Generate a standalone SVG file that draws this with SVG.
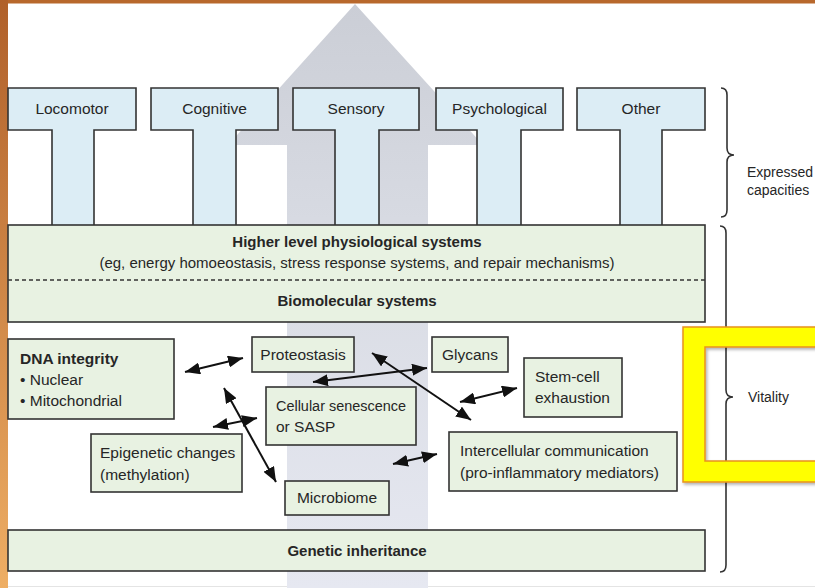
<svg xmlns="http://www.w3.org/2000/svg" width="815" height="588" viewBox="0 0 815 588">
<style>
text{font-family:"Liberation Sans","Noto Sans",Arial,sans-serif;fill:#262626;font-size:15.5px}
.b{font-weight:bold}
.c{text-anchor:middle}
.t{fill:#dcedf5;stroke:#333;stroke-width:1.6}
.g{fill:#e8f2e2;stroke:#333;stroke-width:1.6}
.br{fill:none;stroke:#333;stroke-width:1.6}
.ar{stroke:#111;stroke-width:2;marker-start:url(#ah);marker-end:url(#ah)}
</style>
<defs>
<linearGradient id="og" x1="0" y1="0" x2="0" y2="1">
<stop offset="0" stop-color="#b0602a"/>
<stop offset="1" stop-color="#eeae64"/>
</linearGradient>
<linearGradient id="ag" x1="0" y1="0" x2="0" y2="1">
<stop offset="0" stop-color="#cbced6"/>
<stop offset="0.4" stop-color="#d8dbe3"/>
<stop offset="1" stop-color="#e6e8f1"/>
</linearGradient>
<marker id="ah" markerUnits="userSpaceOnUse" markerWidth="15" markerHeight="12" refX="15" refY="6" orient="auto-start-reverse" viewBox="0 0 15 12">
<path d="M0,0 L15,6 L0,12 Z" fill="#111"/>
</marker>
<filter id="sh" x="-10%" y="-10%" width="130%" height="130%">
<feDropShadow dx="1.5" dy="2" stdDeviation="1.5" flood-color="#000" flood-opacity="0.3"/>
</filter>
</defs>
<rect width="815" height="588" fill="#fff"/>
<rect x="0" y="0" width="815" height="3.5" fill="#b8682c"/>
<rect x="0" y="0" width="8" height="588" fill="url(#og)"/>
<line x1="8" y1="586.5" x2="815" y2="586.5" stroke="#e4e4e4" stroke-width="1"/>

<g id="big-arrow">
<path d="M355,4 L483,145 L428,145 L428,588 L287,588 L287,145 L228,145 Z" fill="url(#ag)"/>
</g>

<g id="locomotor"><path class="t" d="M8,88 H136 V130 H94 V226 H52 V130 H8 Z"/><text class="c" x="72" y="114">Locomotor</text></g>
<g id="cognitive"><path class="t" d="M151,88 H278 V130 H236 V226 H193 V130 H151 Z"/><text class="c" x="214.5" y="114">Cognitive</text></g>
<g id="sensory"><path class="t" d="M293,88 H419 V130 H379 V226 H335 V130 H293 Z"/><text class="c" x="356" y="114">Sensory</text></g>
<g id="psychological"><path class="t" d="M436,88 H563 V130 H521 V226 H477 V130 H436 Z"/><text class="c" x="499.5" y="114">Psychological</text></g>
<g id="other"><path class="t" d="M577,88 H705 V130 H662 V226 H620 V130 H577 Z"/><text class="c" x="641" y="114">Other</text></g>

<g id="systems">
<rect class="g" x="8" y="225" width="697" height="97"/>
<line x1="8" y1="280" x2="705" y2="280" stroke="#333" stroke-width="1.3" stroke-dasharray="4,3"/>
<text class="b c" x="357" y="247" style="font-size:15px">Higher level physiological systems</text>
<text class="c" x="357" y="268" style="font-size:15px">(eg, energy homoeostasis, stress response systems, and repair mechanisms)</text>
<text class="b c" x="357" y="306" style="font-size:15px">Biomolecular systems</text>
</g>

<g id="dna"><rect class="g" x="8" y="339" width="166" height="80"/>
<text class="b" x="20" y="364">DNA integrity</text>
<text x="20" y="385">• Nuclear</text>
<text x="20" y="406">• Mitochondrial</text></g>
<g id="proteostasis"><rect class="g" x="252" y="337" width="102" height="35"/><text class="c" x="303" y="360">Proteostasis</text></g>
<g id="glycans"><rect class="g" x="432" y="337" width="76" height="35"/><text class="c" x="470" y="360">Glycans</text></g>
<g id="stemcell"><rect class="g" x="524" y="358" width="98" height="59"/>
<text x="535" y="382">Stem-cell</text><text x="535" y="403">exhaustion</text></g>
<g id="senescence"><rect class="g" x="266" y="387" width="150" height="58"/>
<text x="276" y="411" textLength="130" lengthAdjust="spacingAndGlyphs">Cellular senescence</text><text x="276" y="432">or SASP</text></g>
<g id="epigenetic"><rect class="g" x="91" y="434" width="151" height="58"/>
<text x="100" y="458">Epigenetic changes</text><text x="100" y="480">(methylation)</text></g>
<g id="intercellular"><rect class="g" x="449" y="432" width="228" height="59"/>
<text x="460" y="456">Intercellular communication</text><text x="460" y="478">(pro-inflammatory mediators)</text></g>
<g id="microbiome"><rect class="g" x="285" y="481" width="104" height="34"/><text class="c" x="337" y="503">Microbiome</text></g>
<g id="genetic"><rect class="g" x="8" y="530" width="697" height="41"/><text class="b c" x="357" y="556" style="font-size:15px">Genetic inheritance</text></g>

<g id="connectors">
<line class="ar" x1="185" y1="372" x2="243" y2="358"/>
<line class="ar" x1="224" y1="388" x2="276" y2="482"/>
<line class="ar" x1="213" y1="427" x2="257" y2="418"/>
<line class="ar" x1="313" y1="382" x2="427" y2="368"/>
<line class="ar" x1="372" y1="353" x2="471" y2="420"/>
<line class="ar" x1="460" y1="402" x2="517" y2="388"/>
<line class="ar" x1="393" y1="464" x2="437" y2="454"/>
</g>

<g id="braces">
<path class="br" d="M721,88 Q727,88 727,95 V148 Q727,155 734,155 Q727,155 727,162 V210 Q727,217 721,217"/>
<text x="747" y="177" style="font-size:14px">Expressed</text>
<text x="747" y="195" style="font-size:14px">capacities</text>
<path class="br" d="M720,226 Q726,226 726,233 V390 Q726,397 733,397 Q726,397 726,404 V565 Q726,572 720,572"/>
<text x="748" y="402" style="font-size:14px">Vitality</text>
</g>

<g id="highlight">
<path d="M683,327 H830 V482 H683 Z M705,347 V461 H830 V347 Z" fill="#ffff00" fill-rule="evenodd" stroke="#e8921e" stroke-width="1.5" filter="url(#sh)"/>
</g>
</svg>
